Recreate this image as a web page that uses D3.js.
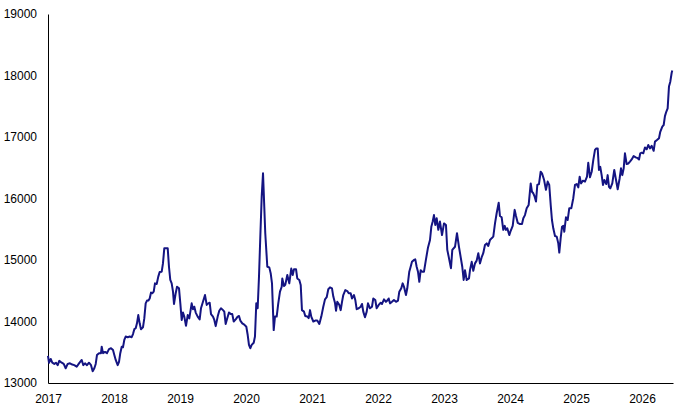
<!DOCTYPE html>
<html>
<head>
<meta charset="utf-8">
<script src="https://cdn.jsdelivr.net/npm/d3@7"></script>
<style>
  body { margin: 0; background: #fff; }
  .axis text { font-family: "Liberation Sans", Arial, sans-serif; font-size: 12px; fill: #000; }
  .axis path { stroke: #000; stroke-width: 1px; }
</style>
</head>
<body>
<svg id="chart" width="683" height="413"></svg>
<script>
// decimal years
var times = [
  2017.000,2017.015,2017.041,2017.065,2017.095,2017.121,2017.147,2017.171,2017.208,2017.238,
  2017.268,2017.298,2017.333,2017.368,2017.398,2017.435,2017.470,2017.511,2017.535,2017.561,
  2017.591,2017.621,2017.652,2017.677,2017.702,2017.723,2017.742,2017.773,2017.803,2017.814,
  2017.833,2017.864,2017.894,2017.924,2017.955,2017.985,2018.005,2018.026,2018.056,2018.076,
  2018.095,2018.117,2018.136,2018.156,2018.177,2018.208,2018.238,2018.268,2018.288,2018.308,
  2018.329,2018.348,2018.368,2018.389,2018.409,2018.439,2018.459,2018.480,2018.500,2018.520,
  2018.541,2018.561,2018.580,2018.602,2018.621,2018.647,2018.671,2018.692,2018.723,2018.742,
  2018.762,2018.814,2018.833,2018.853,2018.874,2018.894,2018.909,2018.935,2018.955,2018.985,
  2019.005,2019.026,2019.045,2019.065,2019.091,2019.117,2019.141,2019.177,2019.197,2019.217,
  2019.238,2019.268,2019.298,2019.318,2019.348,2019.379,2019.405,2019.429,2019.450,2019.470,
  2019.500,2019.520,2019.541,2019.571,2019.595,2019.621,2019.652,2019.671,2019.692,2019.712,
  2019.742,2019.773,2019.792,2019.814,2019.844,2019.874,2019.894,2019.914,2019.944,2019.974,
  2020.005,2020.026,2020.045,2020.065,2020.086,2020.117,2020.136,2020.156,2020.177,2020.197,
  2020.217,2020.238,2020.258,2020.277,2020.292,2020.323,2020.353,2020.374,2020.394,2020.420,
  2020.439,2020.465,2020.489,2020.515,2020.541,2020.550,2020.576,2020.595,2020.626,2020.656,
  2020.686,2020.708,2020.727,2020.758,2020.777,2020.808,2020.829,2020.848,2020.879,2020.898,
  2020.929,2020.950,2020.970,2020.989,2021.020,2021.050,2021.080,2021.111,2021.141,2021.171,
  2021.197,2021.223,2021.247,2021.273,2021.303,2021.323,2021.348,2021.364,2021.383,2021.414,
  2021.435,2021.455,2021.474,2021.505,2021.535,2021.556,2021.586,2021.606,2021.636,2021.656,
  2021.677,2021.708,2021.738,2021.758,2021.777,2021.803,2021.829,2021.848,2021.879,2021.909,
  2021.929,2021.959,2021.980,2022.011,2022.041,2022.061,2022.091,2022.121,2022.141,2022.162,
  2022.182,2022.212,2022.242,2022.273,2022.303,2022.323,2022.353,2022.374,2022.394,2022.424,
  2022.444,2022.474,2022.495,2022.515,2022.545,2022.565,2022.586,2022.606,2022.626,2022.647,
  2022.667,2022.697,2022.727,2022.758,2022.788,2022.808,2022.829,2022.848,2022.868,2022.889,
  2022.914,2022.939,2022.970,2023.000,2023.030,2023.050,2023.071,2023.091,2023.106,2023.126,
  2023.167,2023.197,2023.227,2023.277,2023.298,2023.318,2023.344,2023.379,2023.394,2023.420,
  2023.444,2023.470,2023.495,2023.520,2023.545,2023.571,2023.595,2023.621,2023.647,2023.671,
  2023.697,2023.723,2023.747,2023.773,2023.798,2023.829,2023.848,2023.874,2023.898,2023.920,
  2023.939,2023.959,2023.989,2024.011,2024.041,2024.071,2024.091,2024.117,2024.152,2024.182,
  2024.202,2024.227,2024.253,2024.283,2024.314,2024.333,2024.353,2024.374,2024.394,2024.414,
  2024.439,2024.465,2024.485,2024.515,2024.545,2024.571,2024.595,2024.617,2024.636,2024.656,
  2024.682,2024.708,2024.732,2024.747,2024.768,2024.788,2024.808,2024.823,2024.848,2024.874,
  2024.898,2024.929,2024.959,2024.985,2025.011,2025.035,2025.056,2025.076,2025.106,2025.136,
  2025.167,2025.186,2025.212,2025.238,2025.262,2025.288,2025.308,2025.329,2025.348,2025.368,
  2025.389,2025.409,2025.429,2025.459,2025.480,2025.500,2025.520,2025.550,2025.580,2025.602,
  2025.632,2025.662,2025.682,2025.702,2025.723,2025.742,2025.768,2025.792,2025.818,2025.844,
  2025.874,2025.905,2025.935,2025.955,2025.974,2025.995,2026.020,2026.045,2026.071,2026.095,
  2026.121,2026.147,2026.177,2026.197,2026.227,2026.258,2026.277,2026.308,2026.329,2026.348,
  2026.368,2026.389,2026.409,2026.429,2026.450,2026.459
];

var values = [
  13440,13330,13390,13330,13310,13330,13290,13360,13330,13310,
  13240,13310,13320,13300,13290,13265,13320,13375,13290,13320,
  13290,13330,13290,13190,13240,13310,13455,13485,13485,13590,
  13485,13505,13485,13550,13565,13535,13455,13375,13290,13345,
  13485,13590,13580,13700,13755,13745,13755,13745,13795,13875,
  13890,13970,14105,13970,13875,13905,14050,14295,14340,14340,
  14375,14470,14460,14485,14620,14610,14730,14805,14810,14945,
  15190,15190,14890,14675,14620,14485,14285,14460,14565,14540,
  14295,14025,14145,14080,13930,14105,14050,14295,14200,14240,
  14145,14080,14035,14215,14320,14430,14270,14295,14305,14120,
  14080,14025,13925,14080,14175,14215,14185,14160,13960,14035,
  14145,14120,14120,14000,14035,14080,14090,14015,13970,13950,
  13915,13780,13620,13565,13620,13655,13755,14295,14215,14730,
  15380,16030,16410,15865,15435,14890,14880,14785,14620,13860,
  14080,14080,14295,14485,14565,14700,14575,14595,14755,14620,
  14860,14755,14850,14850,14700,14675,14595,14185,14160,14090,
  14080,14055,14185,14080,14000,14015,14015,13960,14080,14240,
  14360,14395,14525,14555,14540,14405,14305,14175,14320,14270,
  14185,14320,14430,14510,14495,14460,14460,14375,14430,14350,
  14200,14215,14240,14285,14160,14070,14160,14295,14215,14240,
  14375,14350,14215,14270,14305,14285,14360,14320,14340,14375,
  14295,14320,14350,14320,14340,14485,14540,14620,14565,14430,
  14540,14810,14890,14970,15000,15010,14890,14810,14645,14835,
  14810,14810,15010,15205,15325,15540,15625,15730,15570,15680,
  15490,15625,15405,15595,15570,15165,15055,14945,14865,15165,
  15215,15435,15215,14890,14675,14835,14675,14700,14835,14970,
  14825,14945,14990,15110,14945,15045,15110,15245,15270,15230,
  15325,15355,15380,15595,15760,15930,15715,15695,15490,15555,
  15490,15515,15405,15475,15555,15815,15715,15605,15585,15585,
  15680,15730,15840,15895,16245,16110,16085,16030,15950,16220,
  16235,16435,16410,16310,16140,16275,16220,15895,15650,15515,
  15390,15380,15270,15120,15355,15540,15555,15460,15695,15650,
  15840,15840,16005,16220,16235,16180,16355,16245,16290,16275,
  16355,16580,16345,16435,16625,16790,16815,16815,16465,16515,
  16380,16220,16300,16235,16380,16190,16165,16245,16465,16330,
  16150,16330,16490,16380,16490,16735,16560,16570,16600,16635,
  16690,16670,16655,16635,16735,16745,16735,16830,16800,16870,
  16815,16855,16775,16925,16950,16980,17085,17170,17195,17340,
  17410,17465,17820,17900,18045,18080
];

var xTicks = [2017, 2018, 2019, 2020, 2021, 2022, 2023, 2024, 2025, 2026];
var yTicks = [13000, 14000, 15000, 16000, 17000, 18000, 19000];

var svg = d3.select("#chart");
var margin = {top: 14, right: 10, bottom: 30, left: 48};
var width = +svg.attr("width") - margin.left - margin.right;
var height = +svg.attr("height") - margin.top - margin.bottom;

var g = svg.append("g")
    .attr("transform", "translate(" + margin.left + "," + margin.top + ")");

var x = d3.scaleLinear().domain([2017, 2026.47]).range([0, width]);
var y = d3.scaleLinear().domain([13000, 19000]).range([height, 0]);

var data = times.map(function(t, i) { return {t: t, v: values[i]}; });

g.append("g")
    .attr("class", "x axis")
    .attr("transform", "translate(0," + height + ")")
    .call(d3.axisBottom(x).tickValues(xTicks).tickFormat(d3.format("d")).tickSize(0).tickPadding(11));

g.append("g")
    .attr("class", "y axis")
    .call(d3.axisLeft(y).tickValues(yTicks).tickFormat(d3.format("d")).tickSize(0).tickPadding(11));

var line = d3.line()
    .x(function(d) { return x(d.t); })
    .y(function(d) { return y(d.v); });

g.append("path")
    .datum(data)
    .attr("fill", "none")
    .attr("stroke", "#141482")
    .attr("stroke-width", 2)
    .attr("stroke-linejoin", "round")
    .attr("d", line);
</script>
</body>
</html>
